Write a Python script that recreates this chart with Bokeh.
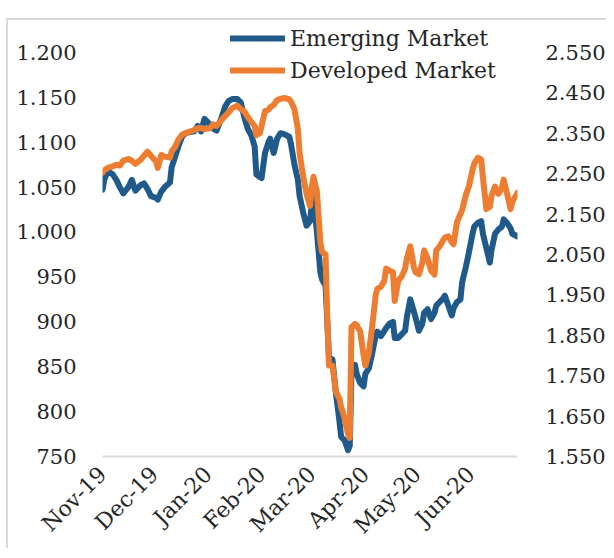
import math
import pandas as pd
from bokeh.plotting import figure
from bokeh.models import (Range1d, LinearAxis, FixedTicker, DatetimeTickFormatter,
                          Legend, LegendItem, Spacer)
from bokeh.layouts import column, row
from bokeh.embed import file_html
from bokeh.resources import INLINE

dates = [
    "2019-11-01", "2019-11-02", "2019-11-04", "2019-11-07", "2019-11-09", "2019-11-11",
    "2019-11-13", "2019-11-16", "2019-11-18", "2019-11-20", "2019-11-23", "2019-11-25",
    "2019-11-27", "2019-11-29", "2019-12-02", "2019-12-03", "2019-12-05", "2019-12-07",
    "2019-12-10", "2019-12-11", "2019-12-13", "2019-12-15", "2019-12-17", "2019-12-19",
    "2019-12-21", "2019-12-24", "2019-12-26", "2019-12-28", "2019-12-30", "2020-01-02",
    "2020-01-04", "2020-01-06", "2020-01-09", "2020-01-11", "2020-01-13", "2020-01-15",
    "2020-01-18", "2020-01-20", "2020-01-22", "2020-01-24", "2020-01-26", "2020-01-28",
    "2020-01-29", "2020-01-31", "2020-02-01", "2020-02-03", "2020-02-05", "2020-02-06",
    "2020-02-08", "2020-02-10", "2020-02-12", "2020-02-14", "2020-02-17", "2020-02-18",
    "2020-02-20", "2020-02-22", "2020-02-23", "2020-02-25", "2020-02-27", "2020-02-29",
    "2020-03-01", "2020-03-02", "2020-03-04", "2020-03-06", "2020-03-07", "2020-03-09",
    "2020-03-10", "2020-03-11", "2020-03-13", "2020-03-15", "2020-03-17", "2020-03-18",
    "2020-03-20", "2020-03-22", "2020-03-23", "2020-03-24", "2020-03-26", "2020-03-27",
    "2020-03-29", "2020-03-31", "2020-04-01", "2020-04-03", "2020-04-05", "2020-04-07",
    "2020-04-08", "2020-04-10", "2020-04-12", "2020-04-13", "2020-04-15", "2020-04-17",
    "2020-04-18", "2020-04-20", "2020-04-22", "2020-04-24", "2020-04-25", "2020-04-27",
    "2020-04-29", "2020-04-30", "2020-05-02", "2020-05-04", "2020-05-05", "2020-05-07",
    "2020-05-09", "2020-05-11", "2020-05-12", "2020-05-14", "2020-05-16", "2020-05-17",
    "2020-05-19", "2020-05-21", "2020-05-22", "2020-05-24", "2020-05-26", "2020-05-27",
    "2020-05-29", "2020-05-31", "2020-06-02", "2020-06-03", "2020-06-05", "2020-06-07",
    "2020-06-08", "2020-06-10", "2020-06-12", "2020-06-13", "2020-06-15", "2020-06-17",
    "2020-06-19", "2020-06-20", "2020-06-22", "2020-06-24", "2020-06-25", "2020-06-28",
]

em_values = [
    1047, 1058, 1068, 1064, 1058, 1050, 1043, 1050, 1058, 1046, 1052, 1054,
    1048, 1040, 1038, 1036, 1045, 1050, 1055, 1072, 1084, 1096, 1106, 1110,
    1111, 1112, 1118, 1112, 1126, 1120, 1115, 1113, 1128, 1140, 1146, 1148,
    1148, 1144, 1128, 1115, 1108, 1095, 1064, 1061, 1060, 1088, 1100, 1104,
    1088, 1104, 1110, 1109, 1106, 1098, 1075, 1058, 1040, 1022, 1007, 1012,
    1030, 1038, 1000, 955, 947, 940, 900, 860, 858, 820, 790, 772,
    768, 757, 762, 845, 852, 842, 832, 828, 842, 848, 865, 885,
    889, 884, 890, 893, 898, 900, 882, 882, 886, 890, 905, 925,
    912, 905, 890, 898, 910, 914, 903, 910, 918, 922, 926, 929,
    918, 907, 915, 922, 925, 944, 960, 978, 998, 1006, 1010, 1012,
    998, 982, 966, 980, 998, 1003, 1006, 1014, 1010, 1004, 998, 995,
]

dm_values = [
    2252, 2258, 2264, 2268, 2272, 2270, 2282, 2286, 2282, 2274, 2284, 2294,
    2304, 2294, 2280, 2264, 2296, 2292, 2290, 2305, 2316, 2335, 2346, 2350,
    2353, 2358, 2362, 2363, 2360, 2362, 2372, 2368, 2383, 2393, 2402, 2412,
    2418, 2410, 2404, 2390, 2378, 2368, 2345, 2350, 2368, 2405, 2408, 2414,
    2420, 2432, 2435, 2437, 2434, 2428, 2410, 2360, 2300, 2245, 2200, 2170,
    2215, 2242, 2205, 2080, 2056, 2050, 1890, 1775, 1775, 1710, 1693, 1672,
    1645, 1605, 1596, 1870, 1878, 1875, 1860, 1800, 1775, 1805, 1873, 1950,
    1965, 1970, 1985, 2015, 2010, 2006, 1935, 1985, 1995, 2015, 2040, 2070,
    2020, 2006, 2001, 2030, 2060, 2040, 2010, 2000, 2060, 2070, 2085, 2092,
    2095, 2080, 2075, 2130, 2150, 2160, 2195, 2220, 2260, 2275, 2289, 2285,
    2240, 2162, 2168, 2195, 2218, 2200, 2215, 2235, 2200, 2162, 2180, 2203,
]

month_ticks = ["2019-11-01", "2019-12-01", "2020-01-01", "2020-02-01",
               "2020-03-01", "2020-04-01", "2020-05-01", "2020-06-01"]
x_start, x_end = "2019-11-01", "2020-06-28"

left_ticks = [750, 800, 850, 900, 950, 1000, 1050, 1100, 1150, 1200]
left_labels = ["750", "800", "850", "900", "950", "1.000", "1.050", "1.100", "1.150", "1.200"]
right_ticks = [1550, 1650, 1750, 1850, 1950, 2050, 2150, 2250, 2350, 2450, 2550]
right_labels = ["1.550", "1.650", "1.750", "1.850", "1.950", "2.050", "2.150",
                "2.250", "2.350", "2.450", "2.550"]

series_names = ["Emerging Market", "Developed Market"]
colors = ["#1f5a8a", "#ed7d31"]

FONT = "DejaVu Serif"
TXT = "#262626"
TICK_SIZE = "21px"

# layout (pixels)
FIG_W, FIG_H = 600, 530
B_LEFT, B_RIGHT, B_TOP, B_BOTTOM = 94, 83, 2, 92
AXIS_PX = 406          # pixel span between the lowest and the highest tick
frame_h = FIG_H - B_TOP - B_BOTTOM
left_end = left_ticks[0] + (left_ticks[-1] - left_ticks[0]) * frame_h / AXIS_PX
right_end = right_ticks[0] + (right_ticks[-1] - right_ticks[0]) * frame_h / AXIS_PX

x = pd.to_datetime(dates)

p = figure(width=FIG_W, height=FIG_H, x_axis_type="datetime",
           x_range=Range1d(pd.Timestamp(x_start), pd.Timestamp(x_end)),
           y_range=Range1d(left_ticks[0], left_end),
           output_backend="svg", toolbar_location=None,
           min_border_left=B_LEFT, min_border_right=B_RIGHT,
           min_border_top=B_TOP, min_border_bottom=B_BOTTOM)
p.extra_y_ranges = {"dm": Range1d(right_ticks[0], right_end)}

p.xgrid.visible = False
p.ygrid.visible = False
p.outline_line_color = None
p.background_fill_color = "white"
p.border_fill_color = "white"

# x axis
xa = p.xaxis[0]
xa.ticker = FixedTicker(ticks=[pd.Timestamp(t).timestamp() * 1000 for t in month_ticks])
xa.formatter = DatetimeTickFormatter(milliseconds="%b-%y", seconds="%b-%y", minsec="%b-%y",
                                     minutes="%b-%y", hourmin="%b-%y", hours="%b-%y",
                                     days="%b-%y", months="%b-%y", years="%b-%y")
xa.major_label_orientation = math.pi / 4
xa.axis_line_color = "#d9d9d9"
xa.axis_line_width = 2
xa.major_tick_line_color = None
xa.minor_tick_line_color = None
xa.major_label_standoff = 8
xa.major_label_text_font = FONT
xa.major_label_text_font_size = "22px"
xa.major_label_text_color = TXT

# left axis
ya = p.yaxis[0]
ya.ticker = FixedTicker(ticks=left_ticks)
ya.major_label_overrides = {t: l for t, l in zip(left_ticks, left_labels)}
ya.axis_line_color = None
ya.major_tick_line_color = None
ya.minor_tick_line_color = None
ya.major_label_standoff = 20
ya.major_label_text_font = FONT
ya.major_label_text_font_size = TICK_SIZE
ya.major_label_text_color = TXT

# right axis
ra = LinearAxis(y_range_name="dm", ticker=FixedTicker(ticks=right_ticks))
ra.major_label_overrides = {t: l for t, l in zip(right_ticks, right_labels)}
ra.axis_line_color = None
ra.major_tick_line_color = None
ra.minor_tick_line_color = None
ra.major_label_standoff = 22
ra.major_label_text_font = FONT
ra.major_label_text_font_size = TICK_SIZE
ra.major_label_text_color = TXT
p.add_layout(ra, "right")

r_em = p.line(x, em_values, line_color=colors[0], line_width=6,
              line_join="round", line_cap="round")
r_dm = p.line(x, dm_values, y_range_name="dm", line_color=colors[1], line_width=6,
              line_join="round", line_cap="round")

legend = Legend(items=[LegendItem(label=series_names[0], renderers=[r_em]),
                       LegendItem(label=series_names[1], renderers=[r_dm])],
                location=(128, frame_h - 2 - 64), orientation="vertical",
                glyph_width=55, glyph_height=32, label_standoff=5,
                padding=0, spacing=0, margin=0,
                label_text_font=FONT, label_text_font_size="22px",
                label_text_color=TXT,
                background_fill_alpha=0, border_line_alpha=0)
p.add_layout(legend)

p.styles = {"border-top": "2px solid #d9d9d9", "border-left": "2px solid #d9d9d9"}

layout = column(Spacer(height=18, width=10),
                row(Spacer(width=6, height=10), p, spacing=0),
                spacing=0)

open("out.html", "w").write(file_html(layout, INLINE))
